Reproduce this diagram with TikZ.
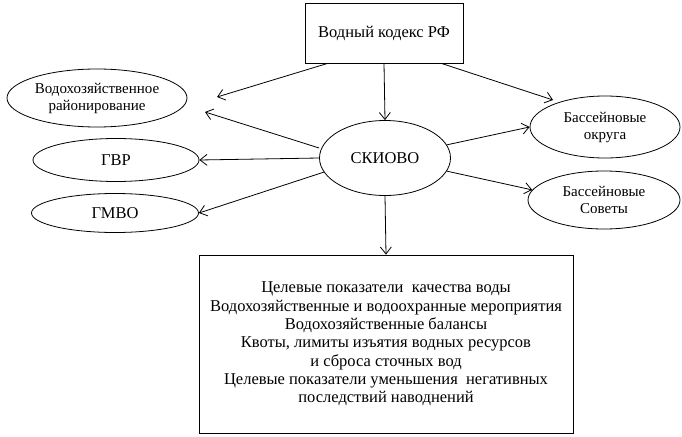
\documentclass[tikz,border=0pt]{standalone}
\usepackage{fontspec}
\setmainfont{Liberation Serif}
\newfontfamily\tnr{Liberation Serif}
\usetikzlibrary{shapes.geometric,arrows.meta}
\begin{document}
\begin{tikzpicture}[x=1pt,y=-1pt,
  every node/.style={font=\tnr\fontsize{16.5}{18.3}\selectfont},
  small/.style={align=center,font=\tnr\fontsize{15}{17}\selectfont},
  ell/.style={draw,ellipse,line width=0.8pt,inner sep=0pt},
  boxx/.style={draw,rectangle,line width=0.8pt,inner sep=0pt},
  arr/.style={line width=0.8pt,-{Straight Barb[length=7pt,width=11pt,line width=0.8pt]}}]
\useasboundingbox (0,0) rectangle (682,436);
\node[boxx,minimum width=158pt,minimum height=60pt] (vk) at (384,33) {Водный кодекс РФ};
\node[ell,minimum width=131pt,minimum height=75pt] (sk) at (385,158) {СКИОВО};
\node[ell,minimum width=180pt,minimum height=58pt,label={[small]center:Водохозяйственное\\районирование}] (vr) at (97,98) {};
\node[ell,minimum width=166pt,minimum height=43pt] (gvr) at (116,160) {ГВР};
\node[ell,minimum width=167pt,minimum height=39pt] (gmvo) at (115,213) {ГМВО};
\node[ell,minimum width=150pt,minimum height=62pt,label={[small]center:Бассейновые\\округа}] (bo) at (605,127) {};
\node[ell,minimum width=152pt,minimum height=58pt,label={[small]center:Бассейновые\\Советы}] (bs) at (604,200) {};
\node[boxx,minimum width=374pt,minimum height=178pt,align=center] (bot) at (386,344)
 {Целевые показатели\ \ качества воды\\
  Водохозяйственные и водоохранные мероприятия\\
  Водохозяйственные балансы\\
  Квоты, лимиты изъятия водных ресурсов\\
  и сброса сточных вод\\
  Целевые показатели уменьшения\ \ негативных\\
  последствий наводнений};
\coordinate (t1) at (217,97);
\coordinate (t2) at (205,112);
\coordinate (t3) at (553,100);
\draw[arr] (vk.south) -- (sk.north);
\draw[arr] (vk.south west) ++(23,0) coordinate (s1) (s1) -- (t1);
\draw[arr] (vk.south east) ++(-22,0) coordinate (s2) (s2) -- (t3);
\draw[arr] (sk.west) ++(0,-10) coordinate (s3) (s3) -- (t2);
\draw[arr] (sk.west) -- (gvr.east);
\draw[arr] (sk.193) -- (gmvo.east);
\draw[arr] (sk.12) -- (bo.west);
\draw[arr] (sk.-12) -- (bs.172);
\draw[arr] (sk.south) -- (bot.north);
\end{tikzpicture}
\end{document}
